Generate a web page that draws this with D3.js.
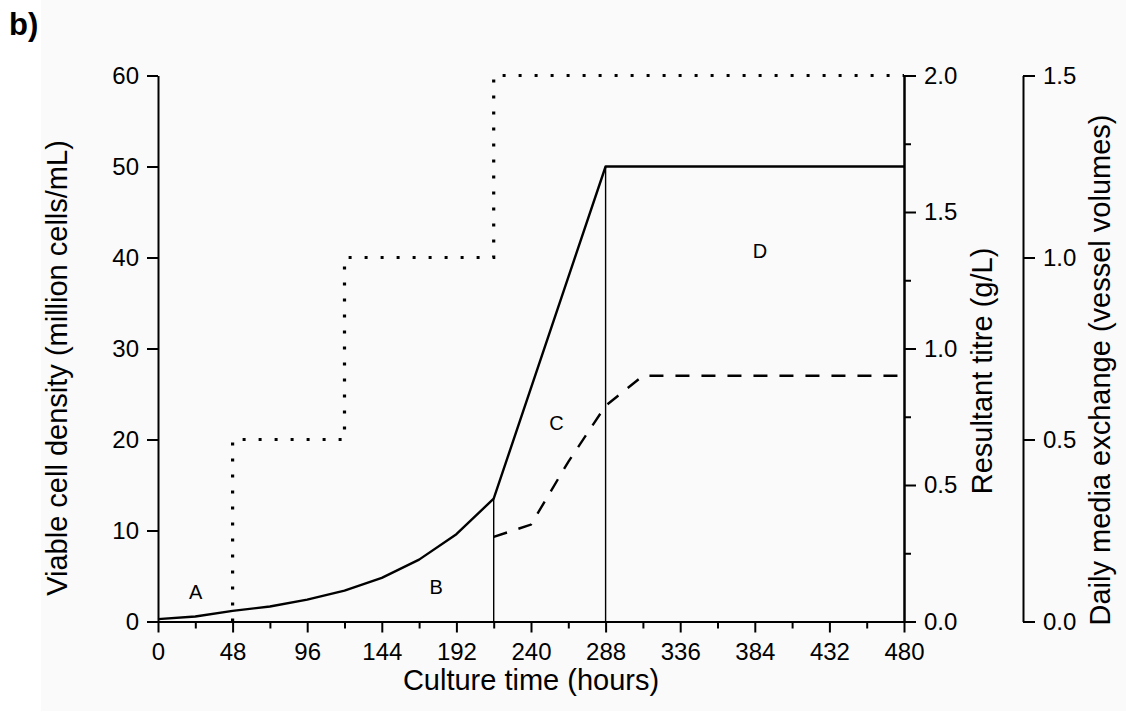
<!DOCTYPE html>
<html>
<head>
<meta charset="utf-8">
<script src="https://cdn.jsdelivr.net/npm/d3@7"></script>
<style>
  html, body { margin: 0; padding: 0; background: #ffffff; }
  svg { display: block; font-family: "Liberation Sans", Arial, Helvetica, sans-serif; }
  .axis path, .axis line { stroke: #000; stroke-width: 2; }
  .axis text { fill: #000; font-size: 24px; font-family: "Liberation Sans", Arial, sans-serif; }
</style>
</head>
<body>
<svg id="chart" width="1126" height="713"></svg>
<script>
// Viable cell density (million cells/mL) over culture time (hours)
const vcdHours = [0, 24, 48, 72, 96, 120, 144, 168, 192, 216, 288, 480];
const vcdValues = [0.26, 0.55, 1.17, 1.65, 2.4, 3.4, 4.8, 6.8, 9.6, 13.5, 50, 50];

// Resultant titre (g/L), from the start of phase C onwards
const titreHours = [216, 240, 264, 288, 312, 336, 384, 432, 480];
const titreValues = [0.31, 0.355, 0.585, 0.79, 0.9, 0.9, 0.9, 0.9, 0.9];

// Daily media exchange (vessel volumes), stepped
const exchangeHours = [0, 48, 120, 216, 480];
const exchangeValues = [0, 0.5, 1.0, 1.5, 1.5];

// Phase boundaries (hours) marked with thin verticals
const phaseBoundaries = [216, 288];

// Phase labels placed in time / cell-density coordinates
const phaseNames = ["A", "B", "C", "D"];
const phaseHours = [24.3, 179, 256.4, 387.4];
const phaseVcd = [3.3, 3.8, 21.8, 40.7];

// Tick values
const xMajorTicks = [0, 48, 96, 144, 192, 240, 288, 336, 384, 432, 480];
const xMinorTicks = [24, 72, 120, 168, 216, 264, 312, 360, 408, 456];
const vcdTicks = [0, 10, 20, 30, 40, 50, 60];
const titreTicks = [0, 0.5, 1.0, 1.5, 2.0];
const titreMinorTicks = [0.25, 0.75, 1.25, 1.75];
const exchangeTicks = [0, 0.5, 1.0, 1.5];

const svg = d3.select("#chart");

// faint paper tone behind the figure
svg.append("rect")
  .attr("x", 41).attr("y", 0).attr("width", 1085).attr("height", 711)
  .attr("fill", "#fafafa");

const x = d3.scaleLinear().domain([0, 480]).range([158, 904]);
const yVcd = d3.scaleLinear().domain([0, 60]).range([621.5, 75.5]);
const yTitre = d3.scaleLinear().domain([0, 2]).range([621.5, 75.5]);
const yEx = d3.scaleLinear().domain([0, 1.5]).range([621.5, 75.5]);

// ---- data ----
// phase boundary verticals
svg.selectAll(".boundary")
  .data(phaseBoundaries)
  .join("line")
  .attr("class", "boundary")
  .attr("x1", d => x(d)).attr("x2", d => x(d))
  .attr("y1", yVcd(0))
  .attr("y2", d => yVcd(vcdValues[vcdHours.indexOf(d)]))
  .attr("stroke", "#000").attr("stroke-width", 1.4);

// media exchange (dotted steps); the zero stretch lies on the time axis,
// so the trace is drawn from the first change onwards
const exPoints = exchangeHours.map((h, i) => ({ h, v: exchangeValues[i] }));
const firstStep = exPoints.findIndex(p => p.v > 0);
const exDrawn = [{ h: exPoints[firstStep].h, v: exPoints[firstStep - 1].v }]
  .concat(exPoints.slice(firstStep));
const exLine = d3.line()
  .x(d => x(d.h))
  .y(d => yEx(d.v))
  .curve(d3.curveStepAfter);
svg.append("path")
  .attr("d", exLine(exDrawn))
  .attr("fill", "none").attr("stroke", "#000")
  .attr("stroke-width", 3.2)
  .attr("stroke-dasharray", "3 13");

// titre (dashed)
const titreLine = d3.line()
  .x((d, i) => x(titreHours[i]))
  .y(d => yTitre(d));
svg.append("path")
  .attr("d", titreLine(titreValues))
  .attr("fill", "none").attr("stroke", "#000")
  .attr("stroke-width", 2.4)
  .attr("stroke-dasharray", "14 12");

// viable cell density (solid)
const vcdLine = d3.line()
  .x((d, i) => x(vcdHours[i]))
  .y(d => yVcd(d));
svg.append("path")
  .attr("d", vcdLine(vcdValues))
  .attr("fill", "none").attr("stroke", "#000")
  .attr("stroke-width", 2.4)
  .attr("stroke-linejoin", "round");

// ---- axes ----
svg.append("g").attr("class", "axis")
  .attr("transform", "translate(0,621.5)")
  .call(d3.axisBottom(x).tickValues(xMinorTicks).tickSize(7).tickSizeOuter(0).tickFormat(""));
svg.append("g").attr("class", "axis")
  .attr("transform", "translate(0,621.5)")
  .call(d3.axisBottom(x).tickValues(xMajorTicks).tickSize(11).tickSizeOuter(0).tickPadding(10).tickFormat(d3.format("d")));

svg.append("g").attr("class", "axis")
  .attr("transform", "translate(158,0)")
  .call(d3.axisLeft(yVcd).tickValues(vcdTicks).tickSize(11).tickSizeOuter(0).tickPadding(8).tickFormat(d3.format("d")));

svg.append("g").attr("class", "axis")
  .attr("transform", "translate(904,0)")
  .call(d3.axisRight(yTitre).tickValues(titreMinorTicks).tickSize(7).tickSizeOuter(0).tickFormat(""));
svg.append("g").attr("class", "axis")
  .attr("transform", "translate(904,0)")
  .call(d3.axisRight(yTitre).tickValues(titreTicks).tickSize(12).tickSizeOuter(0).tickPadding(8).tickFormat(d3.format(".1f")));

svg.append("g").attr("class", "axis")
  .attr("transform", "translate(1023,0)")
  .call(d3.axisRight(yEx).tickValues(exchangeTicks).tickSize(12).tickSizeOuter(0).tickPadding(8).tickFormat(d3.format(".1f")));

// ---- axis titles ----
svg.append("text")
  .attr("x", 531).attr("y", 690)
  .attr("text-anchor", "middle")
  .attr("font-size", 29)
  .text("Culture time (hours)");

svg.append("text")
  .attr("transform", "translate(67,368) rotate(-90)")
  .attr("text-anchor", "middle")
  .attr("font-size", 29)
  .text("Viable cell density (million cells/mL)");

svg.append("text")
  .attr("transform", "translate(992,371) rotate(-90)")
  .attr("text-anchor", "middle")
  .attr("font-size", 29)
  .text("Resultant titre (g/L)");

svg.append("text")
  .attr("transform", "translate(1110,370) rotate(-90)")
  .attr("text-anchor", "middle")
  .attr("font-size", 29)
  .text("Daily media exchange (vessel volumes)");

// panel tag
svg.append("text")
  .attr("x", 9).attr("y", 35)
  .attr("font-size", 31).attr("font-weight", "bold")
  .text("b)");

// phase labels
svg.selectAll(".phase")
  .data(phaseNames)
  .join("text")
  .attr("class", "phase")
  .attr("x", (d, i) => x(phaseHours[i]))
  .attr("y", (d, i) => yVcd(phaseVcd[i]))
  .attr("dy", "0.36em")
  .attr("text-anchor", "middle")
  .attr("font-size", 20)
  .text(d => d);
</script>
</body>
</html>
